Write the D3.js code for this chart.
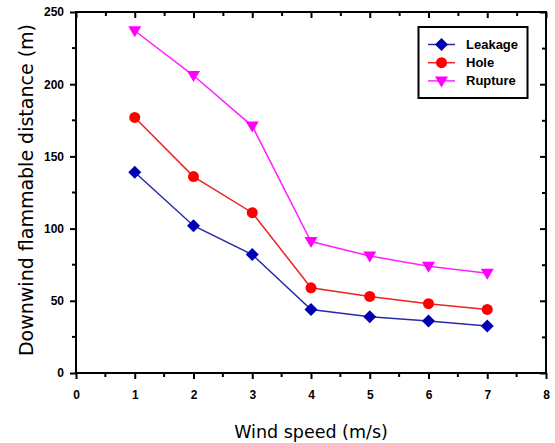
<!DOCTYPE html>
<html>
<head>
<meta charset="utf-8">
<script src="https://cdn.jsdelivr.net/npm/d3@7"></script>
<style>
  body { margin: 0; background: #fff; }
  .tick text { font-family: "Liberation Sans", Arial, sans-serif; font-weight: bold; font-size: 12px; }
  .title { font-family: "DejaVu Sans", sans-serif; fill: #000; }
  .legend text { font-family: "Liberation Sans", Arial, sans-serif; font-weight: bold; font-size: 13px; }
</style>
</head>
<body>
<div id="chart"></div>
<script>
var windSpeed = [1, 2, 3, 4, 5, 6, 7];
var leakage = [139, 102, 82, 44, 39, 36, 32.5];
var hole = [177, 136, 111, 59, 53, 48, 44];
var rupture = [237, 206, 171, 91, 81, 74, 69];
var seriesNames = ["Leakage", "Hole", "Rupture"];
var xTicks = [0, 1, 2, 3, 4, 5, 6, 7, 8];
var yTicks = [0, 50, 100, 150, 200, 250];

var W = 555, H = 443;
var plotLeft = 76, plotRight = 546, plotTop = 12, plotBottom = 373;

var x = d3.scaleLinear().domain([0, 8]).range([plotLeft, plotRight]);
var y = d3.scaleLinear().domain([0, 250]).range([plotBottom, plotTop]);

var color = d3.scaleOrdinal()
    .domain(seriesNames)
    .range(["#0000b0", "#ff0000", "#ff00ff"]);
var lineColor = d3.scaleOrdinal()
    .domain(seriesNames)
    .range(["#2a2aa8", "#ee2222", "#ff22ff"]);
var symbol = d3.scaleOrdinal()
    .domain(seriesNames)
    .range(["diamond", "circle", "triangle"]);

var series = [
    {name: "Leakage", values: leakage},
    {name: "Hole", values: hole},
    {name: "Rupture", values: rupture}
].map(function(s) {
    return {name: s.name, values: windSpeed.map(function(w, i) { return {x: w, y: s.values[i]}; })};
});

var svg = d3.select("#chart").append("svg")
    .attr("width", W)
    .attr("height", H);

// marker drawing
function marker(sel, name) {
    var t = symbol(name);
    if (t == "circle") {
        sel.append("circle").attr("r", 5.5).attr("fill", color(name));
    } else if (t == "diamond") {
        sel.append("path").attr("d", "M0,-6.5L6.5,0L0,6.5L-6.5,0Z").attr("fill", color(name));
    } else {
        sel.append("path").attr("d", "M-6.5,-4.5L6.5,-4.5L0,6.5Z").attr("fill", color(name));
    }
}

// minor ticks
var xMinor = d3.range(0, 8.01, 0.5);
var yMinor = d3.range(0, 250.1, 25);

// bottom axis (outward)
var gx = svg.append("g")
    .attr("transform", "translate(0," + plotBottom + ")")
    .call(d3.axisBottom(x).tickValues(xTicks).tickSize(6).tickPadding(11).tickFormat(d3.format("d")));
gx.selectAll(".tick line").attr("stroke-width", 2);
gx.select(".domain").remove();
gx.selectAll(".minor").data(xMinor.filter(function(d) { return d % 1 != 0; })).enter()
    .append("line").attr("class", "minor")
    .attr("x1", function(d) { return x(d); }).attr("x2", function(d) { return x(d); })
    .attr("y1", 0).attr("y2", 4).attr("stroke", "#000").attr("stroke-width", 2);

// left axis (outward)
var gy = svg.append("g")
    .attr("transform", "translate(" + plotLeft + ",0)")
    .call(d3.axisLeft(y).tickValues(yTicks).tickSize(6).tickPadding(6));
gy.selectAll(".tick line").attr("stroke-width", 2);
gy.select(".domain").remove();
gy.selectAll(".minor").data(yMinor.filter(function(d) { return d % 50 != 0; })).enter()
    .append("line").attr("class", "minor")
    .attr("y1", function(d) { return y(d); }).attr("y2", function(d) { return y(d); })
    .attr("x1", 0).attr("x2", -4).attr("stroke", "#000").attr("stroke-width", 2);

// top axis (inward ticks)
var gt = svg.append("g")
    .attr("transform", "translate(0," + plotTop + ")")
    .call(d3.axisBottom(x).tickValues(xMinor).tickSize(4).tickFormat(""));
gt.selectAll(".tick line").attr("stroke-width", 2)
    .attr("y2", function(d) { return d % 1 == 0 ? 6 : 4; });
gt.select(".domain").remove();

// right axis (inward ticks)
var gr = svg.append("g")
    .attr("transform", "translate(" + plotRight + ",0)")
    .call(d3.axisLeft(y).tickValues(yMinor).tickSize(4).tickFormat(""));
gr.selectAll(".tick line").attr("stroke-width", 2)
    .attr("x2", function(d) { return d % 50 == 0 ? -6 : -4; });
gr.select(".domain").remove();

// frame
svg.append("rect")
    .attr("x", plotLeft).attr("y", plotTop)
    .attr("width", plotRight - plotLeft).attr("height", plotBottom - plotTop)
    .attr("fill", "none").attr("stroke", "#000").attr("stroke-width", 2);

// lines
var line = d3.line()
    .x(function(d) { return x(d.x); })
    .y(function(d) { return y(d.y); });

var plot = svg.selectAll(".series")
    .data(series)
    .enter().append("g")
    .attr("class", "series");

plot.append("path")
    .attr("d", function(d) { return line(d.values); })
    .attr("fill", "none")
    .attr("stroke", function(d) { return lineColor(d.name); })
    .attr("stroke-width", 1.5);

plot.each(function(s) {
    d3.select(this).selectAll(".pt")
        .data(s.values)
        .enter().append("g")
        .attr("class", "pt")
        .attr("transform", function(d) { return "translate(" + x(d.x) + "," + y(d.y) + ")"; })
        .each(function() { marker(d3.select(this), s.name); });
});

// axis titles
svg.append("text")
    .attr("class", "title")
    .style("font-size", "17.5px")
    .attr("x", 311)
    .attr("y", 438)
    .attr("text-anchor", "middle")
    .text("Wind speed (m/s)");

svg.append("text")
    .attr("class", "title")
    .style("font-size", "19px")
    .attr("transform", "translate(33,190) rotate(-90)")
    .attr("text-anchor", "middle")
    .text("Downwind flammable distance (m)");

// legend
var legend = svg.append("g").attr("class", "legend");
legend.append("rect")
    .attr("x", 418.5).attr("y", 27)
    .attr("width", 109).attr("height", 71)
    .attr("fill", "#fff").attr("stroke", "#000").attr("stroke-width", 2);

var row = legend.selectAll(".row")
    .data(seriesNames)
    .enter().append("g")
    .attr("class", "row")
    .attr("transform", function(d, i) { return "translate(0," + (44.5 + i * 18.2) + ")"; });

row.append("line")
    .attr("x1", 428).attr("x2", 455)
    .attr("stroke", function(d) { return lineColor(d); })
    .attr("stroke-width", 1.5);
row.append("g")
    .attr("transform", "translate(441.5,0)")
    .each(function(d) { marker(d3.select(this), d); });
row.append("text")
    .attr("x", 466)
    .attr("dy", "0.35em")
    .text(function(d) { return d; });
</script>
</body>
</html>
